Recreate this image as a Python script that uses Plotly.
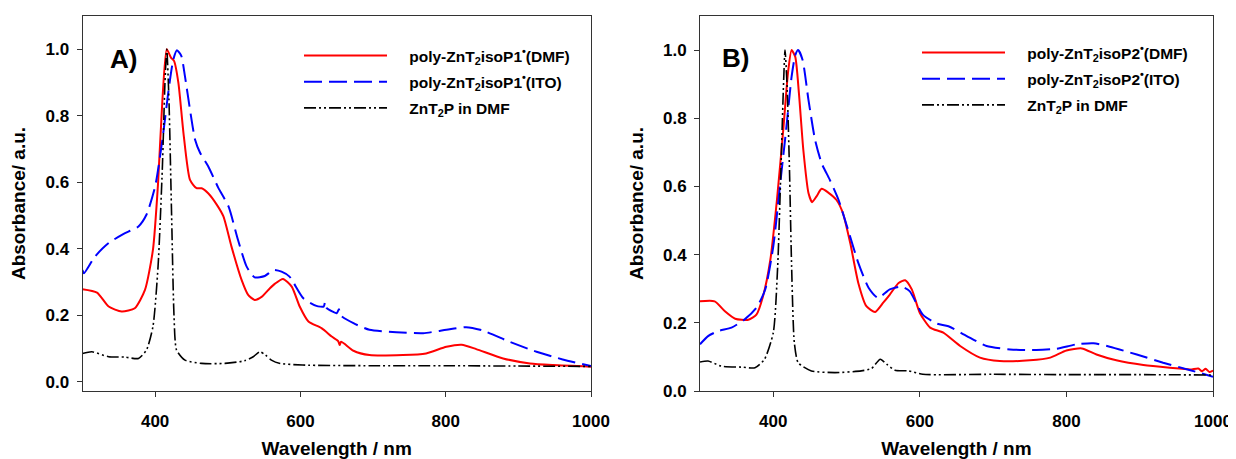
import plotly.graph_objects as go

# ---------------- data ----------------
wl_ticks = [400, 600, 800, 1000]
abs_ticks = [0.0, 0.2, 0.4, 0.6, 0.8, 1.0]

a_red_x = [300,320,336,354,372,386,397,404,410,416,422,426,432,439,448,457,464,473,485,494,
           505,519,528,537,547,558,565,576,588,599,611,629,643,652,654,656,673,695,741,773,
           801,822,842,879,916,948,1000]
a_red_y = [0.278,0.268,0.226,0.211,0.221,0.276,0.397,0.597,0.848,1.0,0.974,0.965,0.899,0.748,0.607,0.582,0.582,0.567,0.532,0.497,
           0.407,0.306,0.261,0.246,0.256,0.281,0.295,0.309,0.286,0.226,0.181,0.161,0.136,0.122,0.110,0.120,0.093,0.080,0.080,0.085,
           0.105,0.111,0.098,0.070,0.055,0.050,0.045]

a_blue_x = [300,302,317,336,356,377,388,400,410,418,425,430,436,441,448,455,462,473,487,501,
            514,526,537,551,563,574,585,604,622,632,634,636,650,653,655,673,695,732,769,801,
            828,851,888,925,961,1000]
a_blue_y = [0.336,0.326,0.376,0.417,0.444,0.467,0.502,0.587,0.728,0.869,0.969,0.997,0.98,0.919,0.818,0.728,0.688,0.648,0.583,0.527,
            0.427,0.346,0.314,0.318,0.336,0.331,0.316,0.251,0.228,0.226,0.240,0.222,0.206,0.218,0.200,0.176,0.156,0.149,0.146,0.156,
            0.164,0.154,0.120,0.090,0.067,0.047]

a_black_x = [300,313,336,358,377,388,397,404,410,413.5,416,419,422.7,426,429.5,441,464,496,523,535,
             544,552,560,572,603,700,800,900,1000]
a_black_y = [0.085,0.090,0.075,0.074,0.070,0.095,0.166,0.346,0.648,0.899,1.0,0.848,0.497,0.196,0.095,0.065,0.055,0.055,0.063,0.075,
             0.090,0.080,0.065,0.055,0.050,0.048,0.048,0.047,0.046]

b_red_x = [300,320,334,348,366,377,386,396,405,414,420,425,430,435,441,448,453,459,466,475,
           486,495,505,516,527,539,550,559,571,580,589,600,614,632,655,682,709,750,778,800,
           821,841,868,905,941,969,980,985,990,995,1000]
b_red_y = [0.263,0.263,0.234,0.212,0.209,0.224,0.278,0.385,0.561,0.776,0.932,1.0,0.980,0.873,0.707,0.581,0.554,0.571,0.593,0.582,
           0.561,0.522,0.434,0.317,0.249,0.232,0.259,0.283,0.317,0.325,0.298,0.229,0.186,0.171,0.132,0.098,0.088,0.090,0.098,0.119,
           0.125,0.107,0.090,0.076,0.068,0.063,0.066,0.058,0.065,0.056,0.060]

b_blue_x = [300,311,325,343,361,377,389,400,409,418,425,430,434,440,448,457,466,477,489,502,
            516,530,543,559,575,586,604,623,639,664,691,723,759,787,814,837,859,896,932,969,1000]
b_blue_y = [0.137,0.161,0.176,0.186,0.210,0.244,0.298,0.424,0.600,0.776,0.922,0.985,1.0,0.971,0.854,0.737,0.668,0.620,0.561,0.473,
            0.376,0.303,0.273,0.298,0.306,0.293,0.224,0.198,0.190,0.161,0.132,0.122,0.120,0.124,0.137,0.140,0.130,0.107,0.083,0.061,0.042]

b_black_x = [300,311,329,357,375,388,400,406,410.5,414,416,418.7,422,425,428.7,434,452,484,520,534,
             546,555,566,584,604,700,800,900,1000]
b_black_y = [0.085,0.088,0.073,0.070,0.068,0.093,0.171,0.366,0.658,0.902,1.0,0.902,0.658,0.366,0.142,0.083,0.059,0.054,0.059,0.066,
             0.093,0.078,0.061,0.059,0.049,0.049,0.048,0.048,0.047]

GAP = "\u00a0\u00a0\u00a0\u00a0"
names_a = [GAP + "poly-ZnT<sub>2</sub>isoP1<sup>•</sup>(DMF)", GAP + "poly-ZnT<sub>2</sub>isoP1<sup>•</sup>(ITO)", GAP + "ZnT<sub>2</sub>P in DMF"]
names_b = [GAP + "poly-ZnT<sub>2</sub>isoP2<sup>•</sup>(DMF)", GAP + "poly-ZnT<sub>2</sub>isoP2<sup>•</sup>(ITO)", GAP + "ZnT<sub>2</sub>P in DMF"]

# ---------------- styling ----------------
FONT = "Liberation Sans, Arial, sans-serif"
RED = "#ff0000"
BLUE = "#0000ff"
BLACK = "#000000"
DASH_BLUE = "18px,7px"
DASH_BLACK = "12px,3px,2px,3px,2px,3px"

OFF = 8  # page body margin offset
W, H = 1236 - OFF, 459 - OFF
ML, MR, MT, MB = 52, 20, 8, 68
PW, PH = W - ML - MR, H - MT - MB

def px_x(p):
    return (p - OFF - ML) / PW

def px_y(p):
    return (H - MB - (p - OFF)) / PH

fig = go.Figure()

def add_set(xs, ys, names, xa, ya, leg):
    styles = [dict(color=RED, width=2, dash="solid"),
              dict(color=BLUE, width=2, dash=DASH_BLUE),
              dict(color=BLACK, width=1.6, dash=DASH_BLACK)]
    for i, (x, y, n, st) in enumerate(zip(xs, ys, names, styles)):
        fig.add_trace(go.Scatter(x=x, y=y, mode="lines", name=n, line=dict(shape="spline", smoothing=0.6, **st),
                                 xaxis=xa, yaxis=ya, legend=leg, legendgroup=leg + str(i)))

add_set([a_red_x, a_blue_x, a_black_x], [a_red_y, a_blue_y, a_black_y], names_a, "x", "y", "legend")
add_set([b_red_x, b_blue_x, b_black_x], [b_red_y, b_blue_y, b_black_y], names_b, "x2", "y2", "legend2")

tickfont = dict(family=FONT, size=17, color="black", weight="bold")
titlefont = dict(family=FONT, size=19, color="black", weight="bold")

xcommon = dict(range=[300, 1000], tickvals=wl_ticks, ticks="outside", ticklen=5, tickcolor="#333",
               showline=True, linecolor="#333", linewidth=1, mirror=True, showgrid=False, zeroline=False,
               tickfont=tickfont, title=dict(text="Wavelength / nm", font=titlefont, standoff=20),
               ticklabelstandoff=10, automargin=False)
ycommon = dict(tickvals=abs_ticks, tickformat=".1f", ticks="outside", ticklen=5, tickcolor="#333",
               showline=True, linecolor="#333", linewidth=1, mirror=True, showgrid=False, zeroline=False,
               tickfont=tickfont, title=dict(text="Absorbance/ a.u.", font=titlefont, standoff=14),
               ticklabelstandoff=4, automargin=False)

legfont = dict(family=FONT, size=15.5, color="black", weight="bold")

fig.update_layout(
    width=W, height=H,
    margin=dict(l=ML, r=MR, t=MT, b=MB),
    paper_bgcolor="white", plot_bgcolor="white",
    font=dict(family=FONT, color="black"),
    xaxis=dict(domain=[px_x(82.5), px_x(591)], anchor="y", **xcommon),
    yaxis=dict(domain=[0, 1], anchor="x", range=[-0.028, 1.10], **ycommon),
    xaxis2=dict(domain=[px_x(700), px_x(1213)], anchor="y2", **xcommon),
    yaxis2=dict(domain=[0, 1], anchor="x2", range=[0, 1.10], **ycommon),
    legend=dict(x=px_x(299), y=px_y(39), xanchor="left", yanchor="top", bgcolor="rgba(0,0,0,0)",
                font=legfont, itemwidth=83, tracegroupgap=3, traceorder="grouped"),
    legend2=dict(x=px_x(917), y=px_y(36), xanchor="left", yanchor="top", bgcolor="rgba(0,0,0,0)",
                 font=legfont, itemwidth=83, tracegroupgap=3, traceorder="grouped"),
    annotations=[
        dict(text="A)", x=px_x(108), y=px_y(59), xref="paper", yref="paper", xanchor="left", yanchor="middle",
             showarrow=False, font=dict(family=FONT, size=26, color="black", weight="bold")),
        dict(text="B)", x=px_x(720), y=px_y(58), xref="paper", yref="paper", xanchor="left", yanchor="middle",
             showarrow=False, font=dict(family=FONT, size=26, color="black", weight="bold")),
    ],
)

fig.write_html("out.html")
